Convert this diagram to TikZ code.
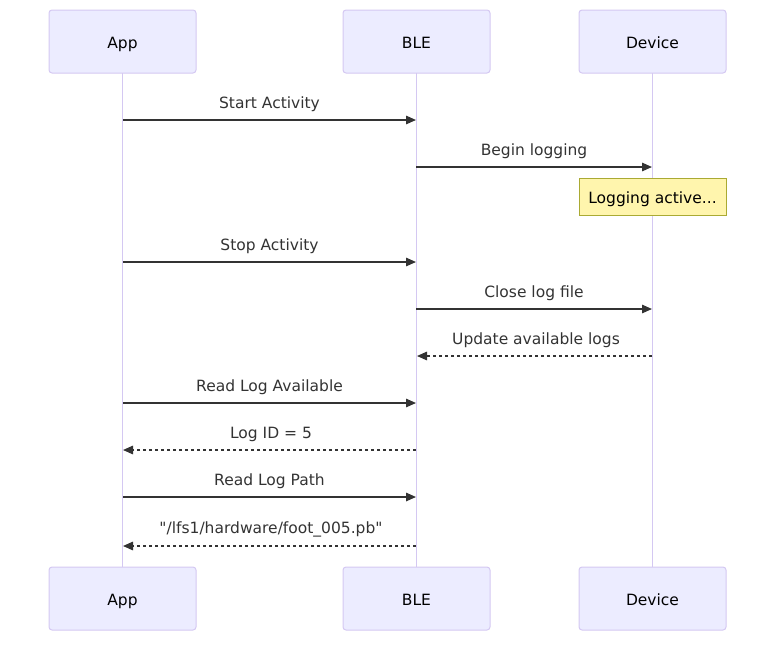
\documentclass[tikz,border=0pt]{standalone}
\usepackage{fontspec}
\setmainfont{DejaVu Sans}[Ligatures=TeXOff]
\usetikzlibrary{arrows.meta}
\definecolor{actfill}{HTML}{ECECFF}
\definecolor{actline}{HTML}{D4C8F2}
\definecolor{notefill}{HTML}{FFF5AD}
\definecolor{noteline}{HTML}{AAAA33}
\definecolor{msgcol}{HTML}{333333}
\tikzset{
  actor/.style={draw=actline, fill=actfill, rounded corners=3pt, line width=1pt,
    minimum width=147pt, minimum height=63pt, inner sep=0pt},
  actortext/.style={anchor=base, inner sep=0pt, font=\fontsize{15.5pt}{18pt}\selectfont, text=black},
  lifeline/.style={draw=actline, line width=1.6pt},
  msg/.style={draw=msgcol, line width=1.5pt, -{Triangle[length=10pt,width=8.5pt]}},
  reply/.style={msg, dash pattern=on 3pt off 3pt},
  lbl/.style={anchor=base, font=\fontsize{15.5pt}{18pt}\selectfont, text=msgcol, inner sep=0pt},
  notebox/.style={draw=noteline, fill=notefill, line width=1pt,
    minimum width=147pt, minimum height=37pt, inner sep=0pt}
}
\begin{document}
\begin{tikzpicture}[x=1pt,y=-1pt]
\useasboundingbox (0,0) rectangle (784,648);
% lifelines
\coordinate (a1) at (122.5,73); \coordinate (a2) at (122.5,567);
\coordinate (b1) at (416.5,73); \coordinate (b2) at (416.5,567);
\coordinate (d1) at (652.5,73); \coordinate (d2) at (652.5,567);
\draw[lifeline] (a1) -- (a2);
\draw[lifeline] (b1) -- (b2);
\draw[lifeline] (d1) -- (d2);
% actors
\node[actor] (appT) at (122.5,41.5) {};
\node[actor] (bleT) at (416.5,41.5) {};
\node[actor] (devT) at (652.5,41.5) {};
\node[actor] (appB) at (122.5,598.5) {};
\node[actor] (bleB) at (416.5,598.5) {};
\node[actor] (devB) at (652.5,598.5) {};
\node[actortext] (appTt) at (122.5,48) {App};
\node[actortext] (bleTt) at (416.5,48) {BLE};
\node[actortext] (devTt) at (652.5,48) {Device};
\node[actortext] (appBt) at (122.5,605) {App};
\node[actortext] (bleBt) at (416.5,605) {BLE};
\node[actortext] (devBt) at (652.5,605) {Device};
% message anchor coordinates
\foreach \n/\y in {1/120,2/167,3/262,4/309,5/356,6/403,7/450,8/497,9/546}{
  \coordinate (A\n) at (123,\y);
  \coordinate (B\n) at (416,\y);
  \coordinate (D\n) at (652,\y);
}
\draw[msg] (A1) -- (B1);
\node[lbl] (l1) at (269.5,108) {Start Activity};
\draw[msg] (B2) -- (D2);
\node[lbl] (l2) at (534,155) {Begin logging};
\node[notebox] (note) at (652.5,196.5) {};
\node[actortext] (notet) at (652.5,203) {Logging active...};
\draw[msg] (A3) -- (B3);
\node[lbl] (l3) at (269.5,250) {Stop Activity};
\draw[msg] (B4) -- (D4);
\node[lbl] (l4) at (534,297) {Close log file};
\draw[reply] (D5) -- ([xshift=1pt]B5);
\node[lbl] (l5) at (536,344) {Update available logs};
\draw[msg] (A6) -- (B6);
\node[lbl] (l6) at (269.5,391) {Read Log Available};
\draw[reply] (B7) -- (A7);
\node[lbl] (l7) at (271,438) {Log ID = 5};
\draw[msg] (A8) -- (B8);
\node[lbl] (l8) at (269.5,485) {Read Log Path};
\draw[reply] (B9) -- (A9);
\node[lbl] (l9) at (271,533) {"/lfs1/hardware/foot\_005.pb"};
\end{tikzpicture}
\end{document}
